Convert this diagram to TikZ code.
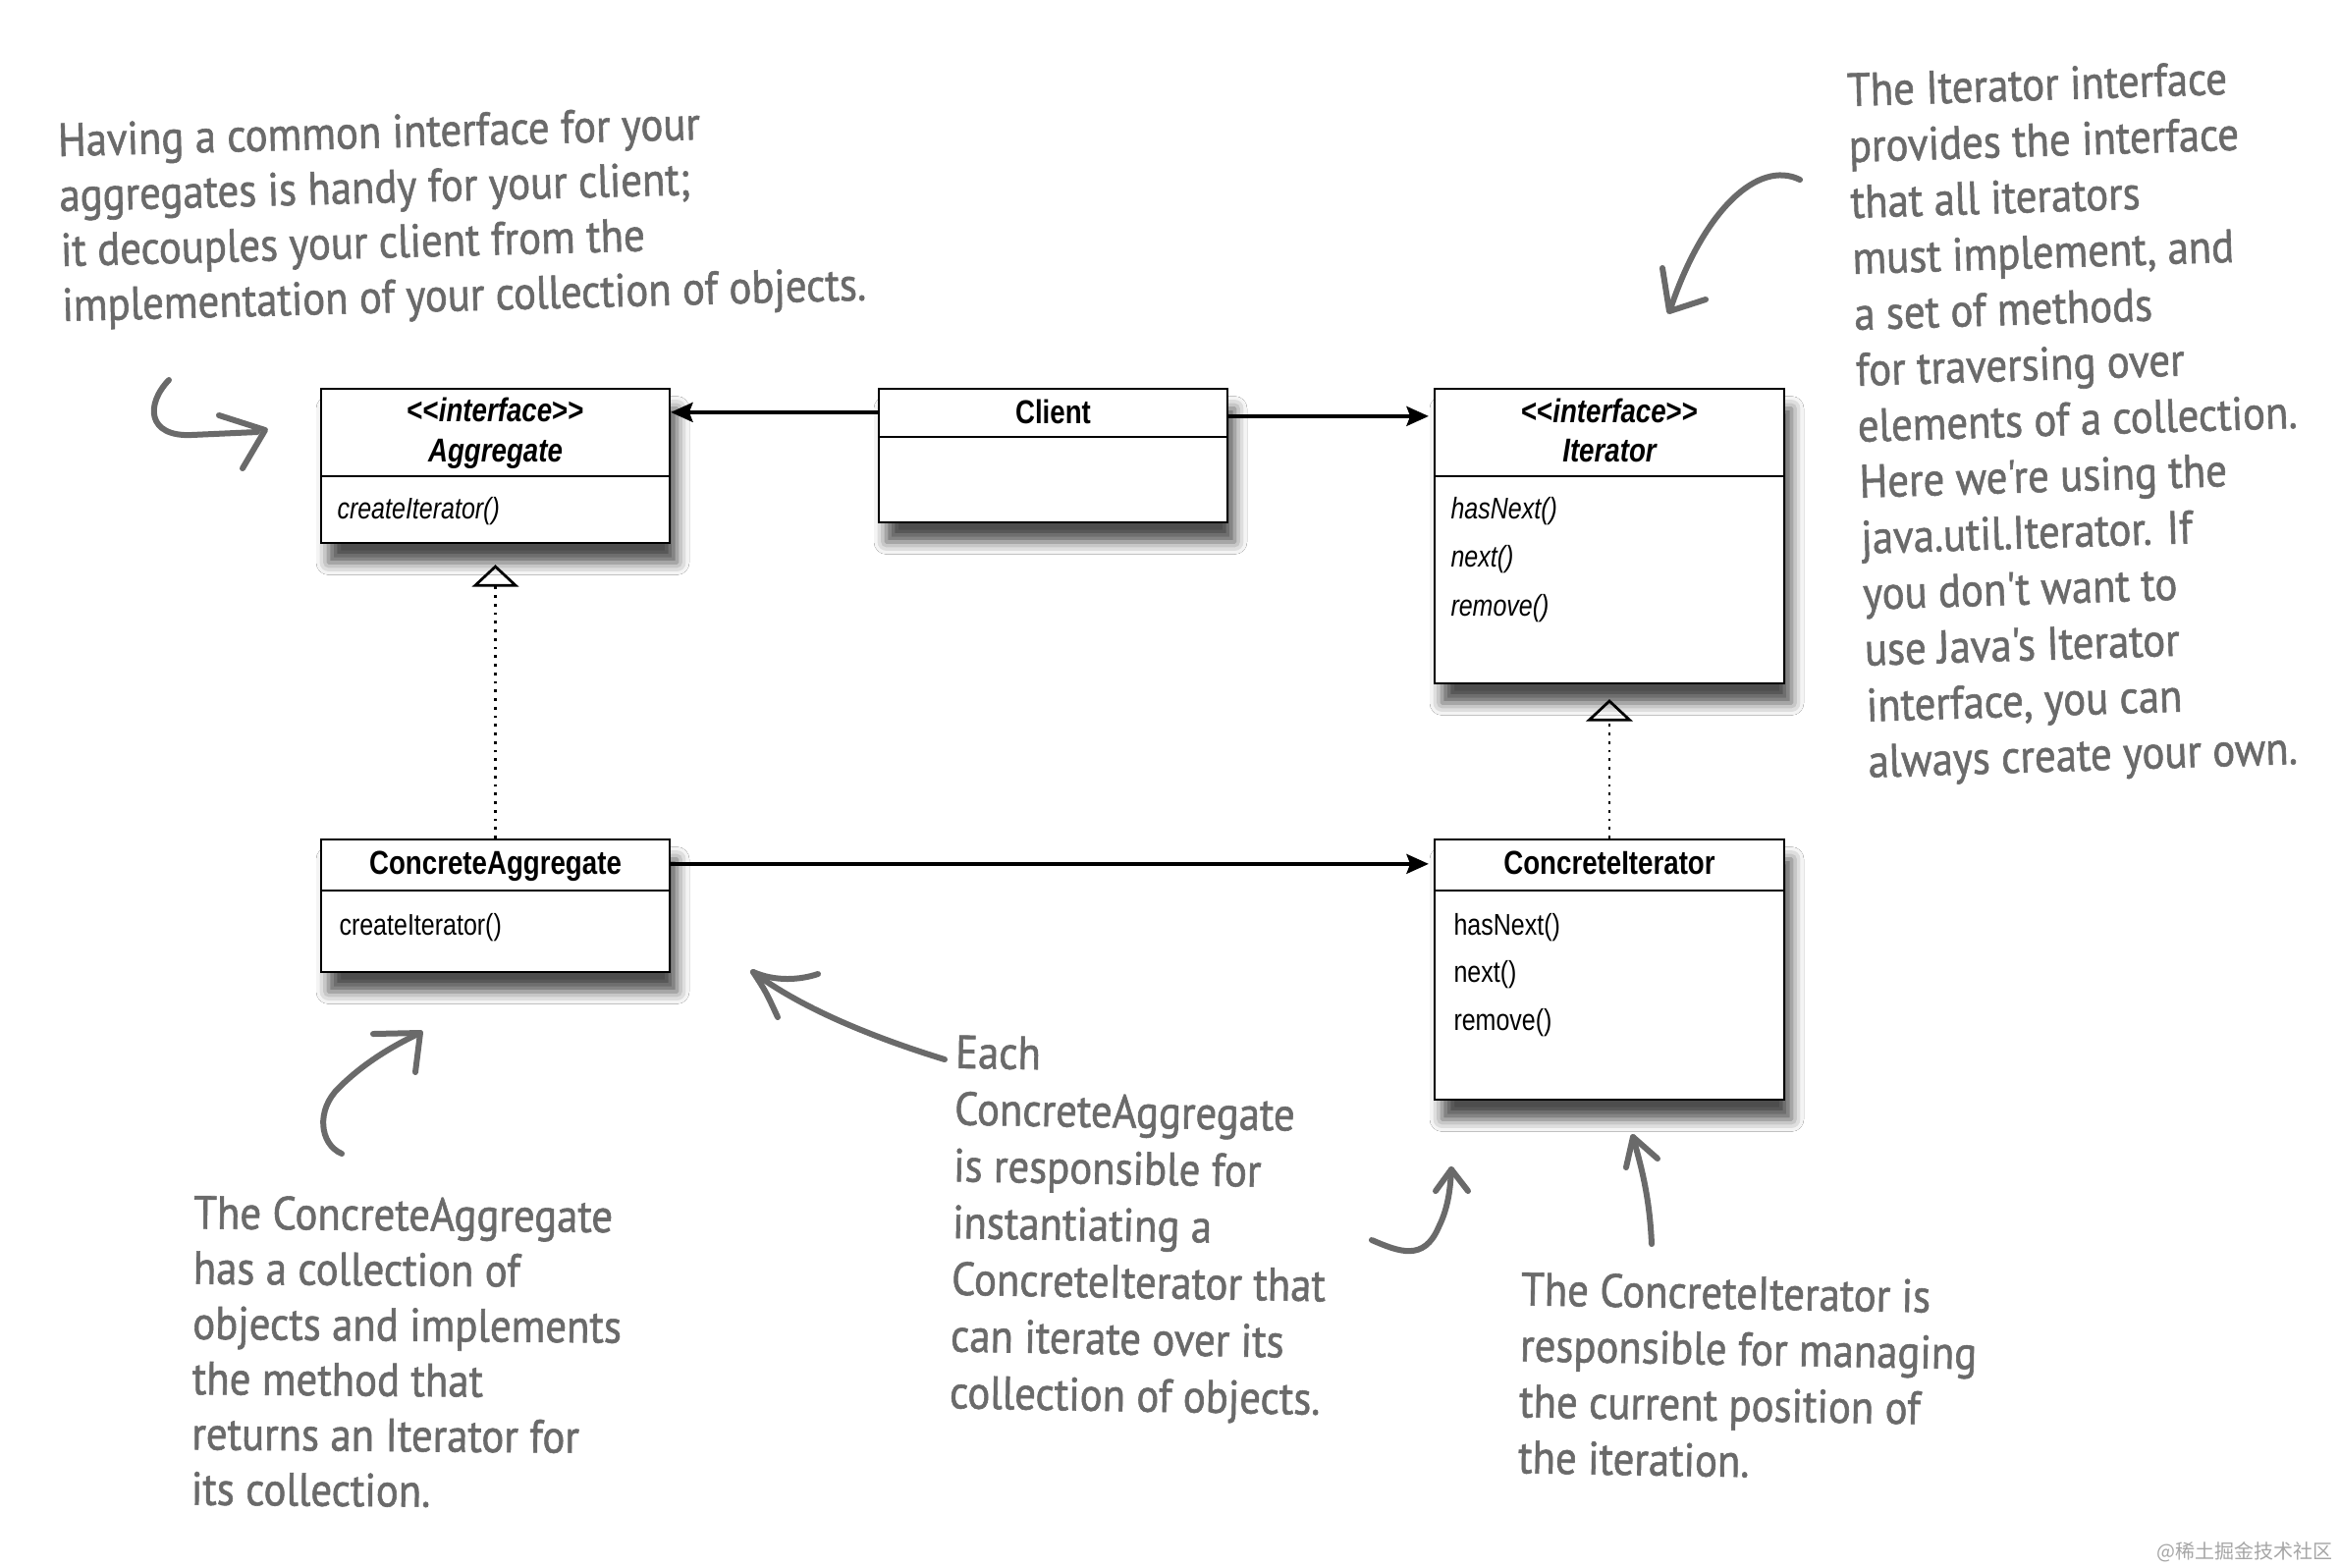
\documentclass[tikz,border=0pt]{standalone}
\usepackage{fontspec}
\setmainfont{Liberation Sans}
\newfontfamily\boxfont[FakeStretch=0.82]{Liberation Sans}
\newfontfamily\handfont[FakeStretch=0.9, FakeBold=1.2]{PT Sans}
\newfontfamily\cjkfont{Noto Sans CJK SC}
\usetikzlibrary{arrows.meta,fit,shadows.blur,calc}
\definecolor{handgray}{HTML}{6A6A6A}
\tikzset{
  umlbox/.style={draw=black, line width=0.9pt, fill=white, inner sep=0pt,
    blur shadow={shadow xshift=3pt, shadow yshift=-8pt, shadow blur radius=5pt, shadow opacity=70}},
  divider/.style={draw=black, line width=0.8pt},
  headtxt/.style={font=\boxfont\bfseries\fontsize{13.5}{15}\selectfont, anchor=mid, inner sep=0pt},
  headital/.style={font=\boxfont\bfseries\itshape\fontsize{13.5}{15}\selectfont, anchor=mid, inner sep=0pt},
  methital/.style={font=\boxfont\itshape\fontsize{12.2}{14}\selectfont, anchor=mid west, inner sep=0pt},
  methtxt/.style={font=\boxfont\fontsize{12.2}{14}\selectfont, anchor=mid west, inner sep=0pt},
  assoc/.style={draw=black, line width=1.3pt, -{Stealth[length=9pt, width=8pt, inset=1.5pt]}},
  realize/.style={draw=black, line width=1pt, dash pattern=on 1.1pt off 2.4pt,
    -{Triangle[open, length=9pt, width=19pt, line width=1.1pt]}},
  handtxt/.style={font=\handfont\fontsize{19}{22.8}\selectfont, text=handgray, align=left, inner sep=0pt, anchor=north west},
  handarrow/.style={draw=handgray, line width=2.4pt, line cap=round, line join=round},
}
\begin{document}
\begin{tikzpicture}[x=0.4pt, y=-0.4pt]
\useasboundingbox (0,0) rectangle (2382,1596);
\fill[white] (0,0) rectangle (2382,1596);

% ---------- UML boxes ----------
\node[umlbox, fit={(327,396) (682,553)}] (agg) {};
\node[umlbox, fit={(895,396) (1250,532)}] (client) {};
\node[umlbox, fit={(1461,396) (1817,696)}] (iter) {};
\node[umlbox, fit={(327,855) (682,990)}] (cagg) {};
\node[umlbox, fit={(1461,855) (1817,1120)}] (citer) {};

\draw[divider] (327,485) -- (682,485);
\draw[divider] (895,445) -- (1250,445);
\draw[divider] (1461,485) -- (1817,485);
\draw[divider] (327,907) -- (682,907);
\draw[divider] (1461,907) -- (1817,907);

% texts in boxes
\node[headtxt] (aggst) at (504.5,423) {<{}<\textit{interface}>{}>};
\node[headital] (aggname) at (504.5,464) {Aggregate};
\node[methital] (aggm) at (343,522) {createIterator()};

\node[headtxt] (clientname) at (1072.5,425) {Client};

\node[headtxt] (iterst) at (1639,424) {<{}<\textit{interface}>{}>};
\node[headital] (itername) at (1639,464) {Iterator};
\node[methital] (iterm1) at (1477,522) {hasNext()};
\node[methital] (iterm2) at (1477,571) {next()};
\node[methital] (iterm3) at (1477,621) {remove()};

\node[headtxt] (caggname) at (504.5,884) {ConcreteAggregate};
\node[methtxt] (caggm) at (345,946) {createIterator()};

\node[headtxt] (citername) at (1639,884) {ConcreteIterator};
\node[methtxt] (citerm1) at (1480,946) {hasNext()};
\node[methtxt] (citerm2) at (1480,994) {next()};
\node[methtxt] (citerm3) at (1480,1043) {remove()};

% ---------- connectors ----------
\draw[assoc] ($(client.north west)+(0,25)$) -- ($(agg.north east)+(0,25)$);
\draw[assoc, shorten >=2pt] ($(client.north east)+(0,29)$) -- ($(iter.north west)+(0,29)$);
\draw[assoc, shorten >=2pt] ($(cagg.north east)+(0,26)$) -- ($(citer.north west)+(0,26)$);
\draw[realize, shorten >=8.4pt] (cagg.north) -- (agg.south);
\draw[realize, shorten >=6pt] (citer.north) -- (iter.south);

% ---------- handwritten notes ----------
\node[handtxt, rotate=1.5, font=\handfont\fontsize{19}{22.4}\selectfont] (note1) at (58,125)
  {Having a common interface for your\\aggregates is handy for your client;\\it decouples your client from the\\implementation of your collection of objects.};
\node[handtxt, rotate=1.8] (note2) at (1880,74)
  {The Iterator interface\\provides the interface\\that all iterators\\must implement, and\\a set of methods\\for traversing over\\elements of a collection.\\Here we're using the\\java.util.Iterator. If\\you don't want to\\use Java's Iterator\\interface, you can\\always create your own.};
\node[handtxt, rotate=-0.5, font=\handfont\fontsize{19}{22.5}\selectfont] (note3) at (197,1217)
  {The ConcreteAggregate\\has a collection of\\objects and implements\\the method that\\returns an Iterator for\\its collection.};
\node[handtxt, rotate=-1, font=\handfont\fontsize{19}{23.1}\selectfont] (note4) at (973,1054)
  {Each\\ConcreteAggregate\\is responsible for\\instantiating a\\ConcreteIterator that\\can iterate over its\\collection of objects.};
\node[handtxt, rotate=-1] (note5) at (1549,1295)
  {The ConcreteIterator is\\responsible for managing\\the current position of\\the iteration.};

% ---------- hand-drawn arrows ----------
\draw[handarrow] (172,387) .. controls (148,412) and (150,445) .. (195,443) -- (262,440);
\draw[handarrow] (223,423) -- (270,438) -- (247,477);

\draw[handarrow] (1833,183) .. controls (1790,162) and (1735,215) .. (1702,312);
\draw[handarrow] (1693,273) -- (1700,317) -- (1737,305);

\draw[handarrow] (348,1175) .. controls (325,1165) and (322,1130) .. (345,1108) .. controls (370,1083) and (400,1065) .. (428,1052);
\draw[handarrow] (380,1053) -- (428,1052) -- (423,1092);

\draw[handarrow] (962,1079) .. controls (900,1060) and (820,1030) .. (767,990);
\draw[handarrow] (833,992) .. controls (815,998) and (790,1000) .. (767,990) .. controls (780,1010) .. (792,1036);

\draw[handarrow] (1397,1263) .. controls (1425,1275) and (1450,1285) .. (1465,1250) .. controls (1475,1230) and (1477,1210) .. (1478,1191);
\draw[handarrow] (1462,1213) -- (1478,1191) -- (1495,1213);

\draw[handarrow] (1682,1267) .. controls (1680,1220) and (1672,1190) .. (1663,1158);
\draw[handarrow] (1656,1189) -- (1663,1158) -- (1688,1180);

% watermark
\node[font=\cjkfont\fontsize{8}{9}\selectfont, text=black!35, anchor=east, inner sep=0pt] (wm) at (2376,1581) {@稀土掘金技术社区};
\end{tikzpicture}
\end{document}
